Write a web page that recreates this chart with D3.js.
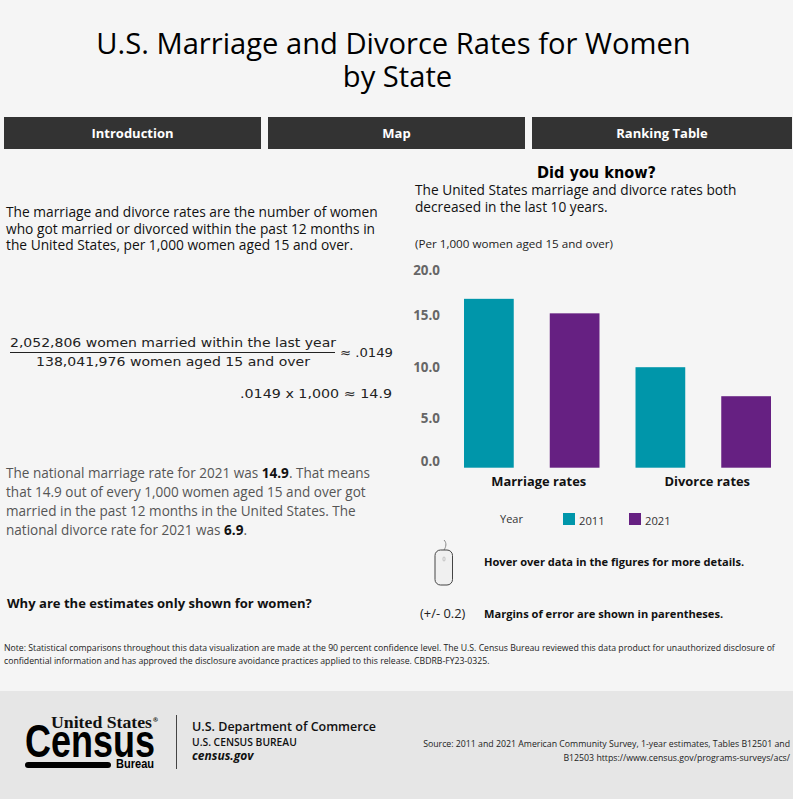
<!DOCTYPE html>
<html>
<head>
<meta charset="utf-8">
<script src="https://cdn.jsdelivr.net/npm/d3@7"></script>
<style>
  html, body { margin: 0; padding: 0; background: #f5f5f5; }
  svg { display: block; font-family: "Open Sans", sans-serif; }
</style>
</head>
<body>
<svg id="page" width="793" height="799"></svg>
<script>
const categories = ['Marriage rates', 'Divorce rates'];
const years = ['2011', '2021'];
const rates_2011 = [16.3, 9.7];
const rates_2021 = [14.9, 6.9];
const y_ticks = [0, 5, 10, 15, 20];
const nav_labels = ['Introduction', 'Map', 'Ranking Table'];

const title_lines = ['U.S. Marriage and Divorce Rates for Women', 'by State'];
const intro_lines = [
  'The marriage and divorce rates are the number of women',
  'who got married or divorced within the past 12 months in',
  'the United States, per 1,000 women aged 15 and over.'
];
const source_lines = [
  'Source: 2011 and 2021 American Community Survey, 1-year estimates, Tables B12501 and',
  'B12503 https://www.census.gov/programs-surveys/acs/'
];
const note_lines = [
  'Note: Statistical comparisons throughout this data visualization are made at the 90 percent confidence level. The U.S. Census Bureau reviewed this data product for unauthorized disclosure of',
  'confidential information and has approved the disclosure avoidance practices applied to this release. CBDRB-FY23-0325.'
];

const year_colors = { '2011': '#0096aa', '2021': '#662082' };
const hand_font = '"DejaVu Sans"';

const svg = d3.select('#page');

function label(x, y, str, size, opts) {
  opts = opts || {};
  const t = svg.append('text')
    .attr('x', x)
    .attr('y', y)
    .attr('font-size', size)
    .attr('font-weight', opts.weight || 400)
    .attr('font-style', opts.style || 'normal')
    .attr('font-family', opts.font || null)
    .attr('text-anchor', opts.anchor || 'start')
    .attr('fill', opts.fill || '#000')
    .text(str);
  // no condensed or handwritten face is installed, so squeeze to the original width
  if (opts.fit) t.attr('textLength', opts.fit).attr('lengthAdjust', 'spacingAndGlyphs');
  return t;
}

// header
svg.append('rect').attr('width', 793).attr('height', 799).attr('fill', '#f5f5f5');
title_lines.forEach((t, i) => label(393.5 + i * 4, 54 + i * 33, t, 29.15, { anchor: 'middle' }));

const nav_x = [4, 268, 532];
const nav_w = [257, 257, 260];
nav_labels.forEach((t, i) => {
  svg.append('rect').attr('x', nav_x[i]).attr('y', 117).attr('width', nav_w[i]).attr('height', 32).attr('fill', '#333');
  label(nav_x[i] + nav_w[i] / 2, 138, t, 13, { anchor: 'middle', weight: 700, fill: '#fff' });
});

// left column
intro_lines.forEach((t, i) => label(6, 217 + i * 16.5, t, 13.75, { fill: '#111' }));

label(10, 347, '2,052,806 women married within the last year', 12.6, { font: hand_font, fill: '#222', fit: 326 });
svg.append('line').attr('x1', 10).attr('x2', 335).attr('y1', 352.5).attr('y2', 352.5).attr('stroke', '#222');
label(36, 366, '138,041,976 women aged 15 and over', 12.6, { font: hand_font, fill: '#222', fit: 274 });
label(340, 357, '\u2248 .0149', 12.6, { font: hand_font, fill: '#222', fit: 53 });
label(240, 398, '.0149 x 1,000 \u2248 14.9', 12.6, { font: hand_font, fill: '#222', fit: 152 });

const para = [
  [['The national marriage rate for 2021 was ', 400], ['14.9', 700], ['. That means', 400]],
  [['that 14.9 out of every 1,000 women aged 15 and over got', 400]],
  [['married in the past 12 months in the United States. The', 400]],
  [['national divorce rate for 2021 was ', 400], ['6.9', 700], ['.', 400]]
];
para.forEach((parts, i) => {
  const t = label(6, 478 + i * 19, '', 13.55, { fill: '#555' });
  parts.forEach(p => t.append('tspan').attr('font-weight', p[1]).attr('fill', p[1] === 700 ? '#111' : null).text(p[0]));
});

label(7, 608, 'Why are the estimates only shown for women?', 13.05, { weight: 700, fill: '#111' });

// chart
const margin = { top: 260.5, bottom: 331.3, left: 446, right: 4 };
const x_group = d3.scaleBand().domain(categories).range([margin.left, 793 - margin.right]);
const x_year = d3.scaleBand().domain(years).range([0, x_group.bandwidth()]).paddingInner(0.42).paddingOuter(0.21);
const y_scale = d3.scaleLinear().domain([0, 20]).range([799 - margin.bottom, margin.top]);

label(537, 178, 'Did you know?', 15, { weight: 700, font: hand_font, fit: 119 });
label(415, 195, 'The United States marriage and divorce rates both', 13.7, { fill: '#111' });
label(415, 212, 'decreased in the last 10 years.', 13.7, { fill: '#111' });
label(415, 248, '(Per 1,000 women aged 15 and over)', 11.65, { fill: '#222' });

const rows = categories.map((c, i) => ({ category: c, values: { '2011': rates_2011[i], '2021': rates_2021[i] } }));

svg.append('g').selectAll('g')
  .data(rows)
  .enter()
  .append('g')
  .attr('transform', d => 'translate(' + x_group(d.category) + ',0)')
  .selectAll('rect')
  .data(d => years.map(y => ({ year: y, value: d.values[y] })))
  .enter()
  .append('rect')
  .attr('x', d => x_year(d.year))
  .attr('y', d => y_scale(d.value))
  .attr('width', x_year.bandwidth())
  .attr('height', d => y_scale(0) - y_scale(d.value))
  .attr('fill', d => year_colors[d.year]);

// the original squeezes the end labels inward and drops the middle ones slightly
const tick_nudge = { 0: -2, 5: 7, 10: 7, 15: 7, 20: 14 };
const y_axis = d3.axisLeft(y_scale).tickValues(y_ticks).tickFormat(d3.format('.1f')).tickSize(0).tickPadding(0);
const y_g = svg.append('g').attr('transform', 'translate(440,0)').call(y_axis);
y_g.select('.domain').remove();
y_g.selectAll('text')
  .attr('dy', d => tick_nudge[d])
  .attr('font-family', '"Open Sans"')
  .attr('font-size', 13.4)
  .attr('font-weight', 700)
  .attr('fill', '#666');

const x_axis = d3.axisBottom(x_group).tickSize(0).tickPadding(0);
const x_g = svg.append('g').attr('transform', 'translate(0,477)').call(x_axis);
x_g.select('.domain').remove();
x_g.selectAll('text')
  .attr('dx', (d, i) => i === 0 ? 7 : 4)
  .attr('font-family', '"Open Sans"')
  .attr('font-size', 12.9)
  .attr('font-weight', 700)
  .attr('fill', '#111');

// legend
label(500, 523, 'Year', 11, { fill: '#333' });
const legend_x = d3.scaleOrdinal().domain(years).range([563, 629]);
years.forEach(y => {
  svg.append('rect').attr('x', legend_x(y)).attr('y', 513).attr('width', 12).attr('height', 12).attr('fill', year_colors[y]);
  label(legend_x(y) + 16, 525, y, 11.2, { fill: '#333' });
});

// hover hint
svg.append('path')
  .attr('d', 'M444,540 C447,543 446,547 444,550')
  .attr('fill', 'none').attr('stroke', '#888');
svg.append('rect').attr('x', 435).attr('y', 550).attr('width', 17.5).attr('height', 35).attr('rx', 5.5)
  .attr('fill', '#f0f0f0').attr('stroke', '#444');
svg.append('rect').attr('x', 443).attr('y', 557).attr('width', 2).attr('height', 4).attr('rx', 1)
  .attr('fill', 'none').attr('stroke', '#aaa').attr('stroke-width', 0.6);
label(484, 566, 'Hover over data in the figures for more details.', 11.1, { weight: 700, fill: '#111' });
label(420, 618, '(+/- 0.2)', 12.9, { fill: '#222' });
label(484, 618, 'Margins of error are shown in parentheses.', 11.1, { weight: 700, fill: '#111' });

note_lines.forEach((t, i) => label(4, 651 + i * 13, t, 8.7, { fill: '#222' }));

// footer
svg.append('rect').attr('x', 0).attr('y', 691).attr('width', 793).attr('height', 108).attr('fill', '#e6e6e6');
label(51, 728, 'United States', 17, { font: '"Liberation Serif"', weight: 700, fill: '#111', fit: 101 });
label(153, 722, '\u00ae', 6, { weight: 700 });
label(25, 757, 'Census', 46, { font: '"Liberation Sans"', weight: 700, fit: 130 });
svg.append('rect').attr('x', 25).attr('y', 762).attr('width', 86).attr('height', 6).attr('rx', 3).attr('fill', '#000');
label(116, 768, 'Bureau', 12, { font: '"Liberation Sans"', weight: 700, fit: 38 });
svg.append('line').attr('x1', 176.5).attr('x2', 176.5).attr('y1', 715).attr('y2', 769).attr('stroke', '#444');
label(192, 731, 'U.S. Department of Commerce', 12.5, { weight: 600, fill: '#111' });
label(192, 746, 'U.S. CENSUS BUREAU', 10.3, { weight: 600, fill: '#111' });
label(192, 760, 'census.gov', 12, { weight: 700, style: 'italic', fill: '#111' });
source_lines.forEach((t, i) => label(790, 747 + i * 14, t, 8.75, { anchor: 'end', fill: '#222' }));
</script>
</body>
</html>
